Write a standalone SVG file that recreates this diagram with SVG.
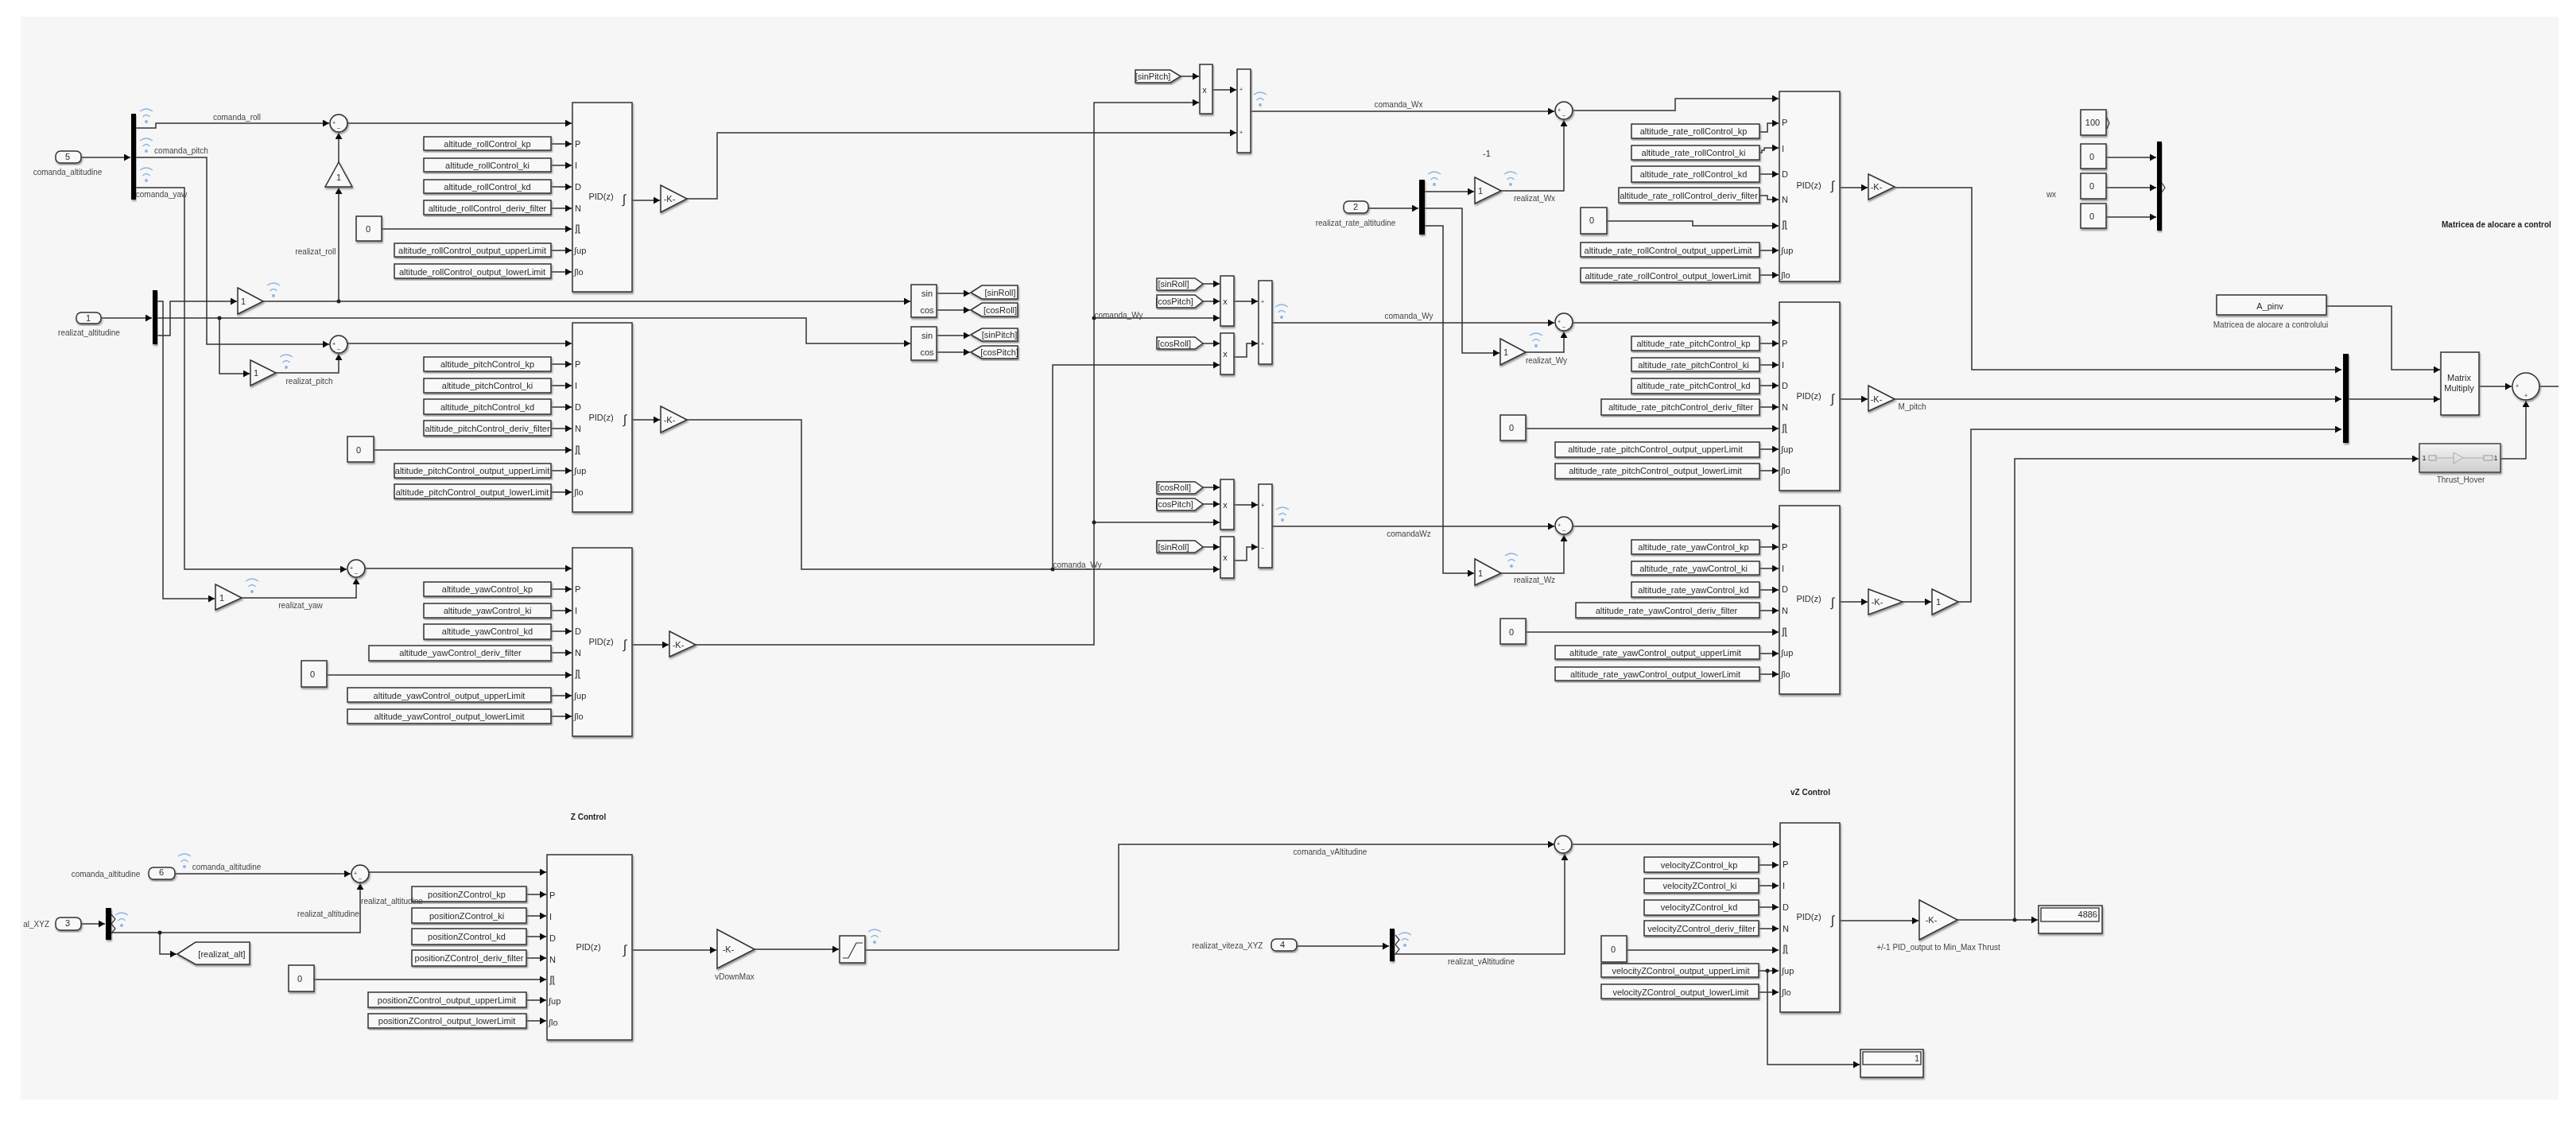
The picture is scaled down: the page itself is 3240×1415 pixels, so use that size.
<svg xmlns="http://www.w3.org/2000/svg" width="3240" height="1415" viewBox="0 0 3240 1415">
<style>
text{font-family:"Liberation Sans",Arial,sans-serif;fill:#2a2a2a;text-anchor:middle;dominant-baseline:central;font-size:11px}
.l{font-size:10px;fill:#444}
.h{font-size:10px;font-weight:bold;fill:#222}
.p{text-anchor:start;font-size:11px}
.s{font-size:7px}
.i{font-size:16px;font-style:italic}
.b{fill:#f8f8f8;stroke:#333;stroke-width:1.5;filter:url(#sh)}
.k{fill:#000;filter:url(#sh)}
.f{fill:none;stroke:#333;stroke-width:1.2}
.w{fill:none;stroke:#8db4e2;stroke-width:1.3}
#connectors path{fill:none;stroke:#333;stroke-width:1.5;marker-end:url(#ar)}
#connectors path.n{marker-end:none}
#connectors circle{fill:#222}
</style>
<defs>
<filter id="blur" filterUnits="userSpaceOnUse" x="0" y="0" width="3240" height="1415"><feGaussianBlur stdDeviation="0.5"/></filter>
<filter id="sh" x="-10%" y="-10%" width="125%" height="125%"><feDropShadow dx="1" dy="2" stdDeviation="1" flood-color="#777" flood-opacity="0.8"/></filter>
<marker id="ar" markerUnits="userSpaceOnUse" markerWidth="9" markerHeight="10" refX="8" refY="4.5" orient="auto"><path d="M0 0L8 4.5L0 9z" fill="#111"/></marker>
<linearGradient id="gr" x1="0" y1="0" x2="0" y2="1"><stop offset="0" stop-color="#f4f4f4"/><stop offset="1" stop-color="#cdcdcd"/></linearGradient>
<g id="wifi"><path class="w" d="M-8-6Q0-12 8-6M-4.5 1Q0-4 4.5 1"/><circle cy="7" r="2" fill="#8db4e2"/></g>
<path id="pulse" class="f" d="M-3 5H-1V-5H2V5H4"/>
</defs>
<g filter="url(#blur)">
<rect width="3240" height="1415" fill="#fff"/>
<rect id="background" x="26" y="21" width="3192" height="1362" fill="#f6f6f6"/>
<g id="connectors">
<path d="M102 198H164"/><path d="M171 161H196V155H414"/><path d="M171 198H260V433H414"/><path d="M171 236H232V716H436"/>
<path d="M127 400H191"/><path d="M198 379H205V753H270"/><path d="M198 422H214V379H298"/><path d="M198 400H1014V432H1145"/>
<path d="M331 379H1145"/><path d="M426 379V236"/><path d="M426 204V167"/><path d="M276 400V470H314"/><path d="M347 469H426V445"/><path d="M304 752H448V727"/>
<circle cx="426" cy="379" r="2.5"/><circle cx="276" cy="400" r="2.5"/>
<path d="M437 155H719"/><path d="M437 432H719"/><path d="M459 715H719"/>
<path d="M693 181H719"/><path d="M693 208H719"/><path d="M693 235H719"/><path d="M693 262H719"/><path d="M480 288H719"/><path d="M693 315H719"/><path d="M693 342H719"/>
<path d="M693 458H719"/><path d="M693 485H719"/><path d="M693 512H719"/><path d="M693 539H719"/><path d="M470 566H719"/><path d="M693 592H719"/><path d="M693 619H719"/>
<path d="M693 741H719"/><path d="M693 768H719"/><path d="M693 794H719"/><path d="M693 821H719"/><path d="M411 849H719"/><path d="M693 875H719"/><path d="M693 901H719"/>
<path d="M795 252H830"/><path d="M795 528H830"/><path d="M795 811H841"/>
<path d="M1178 369H1220"/><path d="M1178 390H1220"/><path d="M1178 422H1220"/><path d="M1178 443H1220"/>
<path d="M864 528H1008V716H1534"/><path d="M1324 716V459H1534"/><circle cx="1324" cy="716" r="2.5"/>
<path d="M875 811H1376V129H1508"/><path d="M1376 400H1534"/><path d="M1376 657H1534"/><circle cx="1376" cy="400" r="2.5"/><circle cx="1376" cy="657" r="2.5"/>
<path d="M864 250H902V167H1555"/><path d="M1485 96H1508"/><path d="M1525 113H1555"/><path d="M1573 140H1955"/>
<path d="M1513 357H1534"/><path d="M1513 379H1534"/><path d="M1552 379H1582"/><path d="M1513 432H1534"/><path d="M1552 449H1568V432H1582"/><path d="M1600 406H1955"/>
<path d="M1513 613H1534"/><path d="M1513 634H1534"/><path d="M1552 635H1582"/><path d="M1513 688H1534"/><path d="M1552 705H1568V688H1582"/><path d="M1600 662H1955"/>
<path d="M1721 262H1784"/><path d="M1792 241H1854"/><path d="M1888 240H1967V151"/><path d="M1792 262H1839V444H1886"/><path d="M1919 443H1967V417"/><path d="M1792 284H1815V721H1854"/><path d="M1888 721H1967V673"/>
<path d="M1978 139H2107V124H2237"/><path d="M1978 406H2237"/><path d="M1978 662H2237"/>
<path d="M2213 166H2223V155H2237"/><path d="M2213 192H2216V189H2219V186H2237"/><path d="M2213 219H2237"/><path d="M2213 246H2223V251H2237"/><path d="M2021 278H2129V284H2237"/><path d="M2213 315H2237"/><path d="M2213 346H2237"/>
<path d="M2314 236H2349"/><path d="M2383 236H2480V465H2945"/>
<path d="M2213 432H2237"/><path d="M2213 459H2237"/><path d="M2213 485H2237"/><path d="M2213 512H2237"/><path d="M1919 539H2237"/><path d="M2213 565H2237"/><path d="M2213 592H2237"/>
<path d="M2314 502H2349"/><path d="M2383 502H2945"/><path d="M2954 502H3069"/>
<path d="M2213 688H2237"/><path d="M2213 715H2237"/><path d="M2213 742H2237"/><path d="M2213 768H2237"/><path d="M1919 795H2237"/><path d="M2213 822H2237"/><path d="M2213 848H2237"/>
<path d="M2314 757H2349"/><path d="M2393 757H2429"/><path d="M2463 757H2479V540H2945"/>
<path d="M2649 198H2712"/><path d="M2649 236H2712"/><path d="M2649 273H2712"/>
<path d="M2926 385H3008V465H3069"/><path d="M3118 486H3159"/><path class="n" d="M3194 486H3218"/><path d="M3145 577H3177V504"/><path d="M2534 1157V577H3042"/><path d="M2462 1157H2563"/><circle cx="2534" cy="1157" r="2.5"/>
<path d="M2314 1158H2413"/>
<path d="M2212 1088H2237"/><path d="M2212 1114H2237"/><path d="M2212 1141H2237"/><path d="M2212 1168H2237"/><path d="M2046 1195H2237"/><path d="M2212 1221H2237"/><path d="M2212 1248H2237"/>
<path d="M2223 1221V1339H2339"/><circle cx="2223" cy="1221" r="2.5"/>
<path d="M220 1099H441"/><path d="M102 1162H132"/><path d="M140 1173H453V1111"/><path d="M201 1173V1200H222"/><circle cx="201" cy="1173" r="2.5"/>
<path d="M464 1097H687"/><path d="M662 1125H687"/><path d="M662 1152H687"/><path d="M662 1178H687"/><path d="M662 1205H687"/><path d="M395 1232H687"/><path d="M662 1258H687"/><path d="M662 1284H687"/>
<path d="M795 1195H901"/><path d="M949 1194H1055"/><path d="M1088 1195H1407V1062H1955"/><path d="M1978 1062H2238"/><path d="M1631 1190H1747"/><path d="M1754 1200H1968V1074"/>
</g>

<g id="inport5"><rect class="b" x="70" y="190" width="32" height="15" rx="6"/><text x="85" y="197">5</text><text class="l" x="85" y="216">comanda_altitudine</text></g>
<g id="demux1"><rect class="k" x="165" y="143" width="6" height="108"/><use href="#wifi" x="184" y="146"/><use href="#wifi" x="184" y="183"/><use href="#wifi" x="184" y="220"/><text class="l" x="298" y="147">comanda_roll</text><text class="l" x="228" y="189">comanda_pitch</text><text class="l" x="203" y="244">comanda_yaw</text></g>
<g id="inport1"><rect class="b" x="96" y="393" width="31" height="14" rx="6"/><text x="111" y="400">1</text><text class="l" x="112" y="418">realizat_altitudine</text></g>
<g id="demux2"><rect class="k" x="192" y="365" width="6" height="68"/></g>

<g id="sum1"><circle class="b" cx="426" cy="155" r="11"/><text class="s" x="420" y="154">+</text><text class="s" x="426" y="160">–</text></g>
<g id="gainRollUp"><polygon class="b" points="426,204 443,235 409,235"/><text x="426" y="223">1</text><text class="l" x="397" y="316">realizat_roll</text></g>
<g id="gainRoll"><polygon class="b" points="299,362 331,379 299,395"/><text x="306" y="379">1</text><use href="#wifi" x="344" y="365"/></g>
<g id="sum2"><circle class="b" cx="426" cy="433" r="11"/><text class="s" x="420" y="432">+</text><text class="s" x="426" y="438">–</text></g>
<g id="gainPitch"><polygon class="b" points="315,453 347,469 315,485"/><text x="322" y="469">1</text><use href="#wifi" x="360" y="455"/><text class="l" x="389" y="479">realizat_pitch</text></g>
<g id="sum3"><circle class="b" cx="448" cy="715" r="11"/><text class="s" x="442" y="714">+</text><text class="s" x="448" y="720">–</text></g>
<g id="gainYaw"><polygon class="b" points="271,735 304,752 271,767"/><text x="279" y="752">1</text><use href="#wifi" x="317" y="737"/><text class="l" x="378" y="761">realizat_yaw</text></g>

<g id="pidRoll"><rect class="b" x="720" y="129" width="75" height="238"/><text x="756" y="247">PID(z)</text><text class="i" x="785" y="250">∫</text>
<text class="p" x="723" y="181">P</text><text class="p" x="723" y="208">I</text><text class="p" x="723" y="235">D</text><text class="p" x="723" y="262">N</text><use href="#pulse" x="726" y="288"/><text class="p" x="722" y="315">∫up</text><text class="p" x="722" y="342">∫lo</text></g>
<g id="rollParams">
<rect class="b" x="533" y="172" width="160" height="17"/><text x="613" y="181">altitude_rollControl_kp</text>
<rect class="b" x="533" y="199" width="160" height="17"/><text x="613" y="208">altitude_rollControl_ki</text>
<rect class="b" x="533" y="226" width="160" height="17"/><text x="613" y="235">altitude_rollControl_kd</text>
<rect class="b" x="533" y="252" width="160" height="18"/><text x="613" y="262">altitude_rollControl_deriv_filter</text>
<rect class="b" x="448" y="272" width="32" height="31"/><text x="463" y="288">0</text>
<rect class="b" x="496" y="306" width="197" height="17"/><text x="594" y="315">altitude_rollControl_output_upperLimit</text>
<rect class="b" x="496" y="332" width="197" height="18"/><text x="594" y="342">altitude_rollControl_output_lowerLimit</text></g>
<g id="gainK1"><polygon class="b" points="831,233 864,250 831,267"/><text x="842" y="250">-K-</text></g>

<g id="pidPitch"><rect class="b" x="720" y="406" width="75" height="238"/><text x="756" y="525">PID(z)</text><text class="i" x="786" y="527">∫</text>
<text class="p" x="723" y="458">P</text><text class="p" x="723" y="485">I</text><text class="p" x="723" y="512">D</text><text class="p" x="723" y="539">N</text><use href="#pulse" x="726" y="566"/><text class="p" x="722" y="592">∫up</text><text class="p" x="722" y="619">∫lo</text></g>
<g id="pitchParams">
<rect class="b" x="533" y="449" width="160" height="18"/><text x="613" y="458">altitude_pitchControl_kp</text>
<rect class="b" x="533" y="476" width="160" height="18"/><text x="613" y="485">altitude_pitchControl_ki</text>
<rect class="b" x="533" y="502" width="160" height="19"/><text x="613" y="512">altitude_pitchControl_kd</text>
<rect class="b" x="533" y="529" width="160" height="19"/><text x="613" y="539">altitude_pitchControl_deriv_filter</text>
<rect class="b" x="437" y="549" width="33" height="32"/><text x="451" y="566">0</text>
<rect class="b" x="496" y="583" width="197" height="18"/><text x="594" y="592">altitude_pitchControl_output_upperLimit</text>
<rect class="b" x="496" y="609" width="197" height="18"/><text x="594" y="619">altitude_pitchControl_output_lowerLimit</text></g>
<g id="gainK2"><polygon class="b" points="831,511 864,528 831,544"/><text x="842" y="528">-K-</text></g>

<g id="pidYaw"><rect class="b" x="720" y="689" width="75" height="237"/><text x="756" y="807">PID(z)</text><text class="i" x="786" y="810">∫</text>
<text class="p" x="723" y="741">P</text><text class="p" x="723" y="768">I</text><text class="p" x="723" y="794">D</text><text class="p" x="723" y="821">N</text><use href="#pulse" x="726" y="848"/><text class="p" x="722" y="875">∫up</text><text class="p" x="722" y="901">∫lo</text></g>
<g id="yawParams">
<rect class="b" x="533" y="732" width="160" height="18"/><text x="613" y="741">altitude_yawControl_kp</text>
<rect class="b" x="533" y="759" width="160" height="18"/><text x="613" y="768">altitude_yawControl_ki</text>
<rect class="b" x="533" y="785" width="160" height="19"/><text x="613" y="794">altitude_yawControl_kd</text>
<rect class="b" x="464" y="812" width="229" height="19"/><text x="579" y="821">altitude_yawControl_deriv_filter</text>
<rect class="b" x="379" y="831" width="32" height="33"/><text x="393" y="848">0</text>
<rect class="b" x="437" y="865" width="256" height="18"/><text x="565" y="875">altitude_yawControl_output_upperLimit</text>
<rect class="b" x="437" y="892" width="256" height="18"/><text x="565" y="901">altitude_yawControl_output_lowerLimit</text></g>
<g id="gainK3"><polygon class="b" points="842,794 875,811 842,826"/><text x="853" y="811">-K-</text></g>

<g id="trig1"><rect class="b" x="1146" y="358" width="32" height="41"/><text x="1166" y="369">sin</text><text x="1166" y="390">cos</text></g>
<g id="trig2"><rect class="b" x="1146" y="411" width="32" height="42"/><text x="1166" y="422">sin</text><text x="1166" y="443">cos</text></g>
<g id="gotoSinRoll"><polygon class="b" points="1221,368 1235,359 1280,359 1280,376 1235,376"/><text x="1258" y="368">[sinRoll]</text></g>
<g id="gotoCosRoll"><polygon class="b" points="1221,390 1235,381 1280,381 1280,398 1235,398"/><text x="1258" y="390">[cosRoll]</text></g>
<g id="gotoSinPitch"><polygon class="b" points="1221,421 1235,413 1280,413 1280,429 1235,429"/><text x="1257" y="421">[sinPitch]</text></g>
<g id="gotoCosPitch"><polygon class="b" points="1221,443 1235,435 1280,435 1280,451 1235,451"/><text x="1257" y="443">[cosPitch]</text></g>

<g id="fromX1"><polygon class="b" points="1428,88 1472,88 1485,96 1472,104 1428,104"/><text x="1450" y="96">[sinPitch]</text></g>
<g id="prodX"><rect class="b" x="1509" y="81" width="16" height="62"/><text x="1515" y="113">x</text></g>
<g id="addX"><rect class="b" x="1556" y="87" width="17" height="105"/><text class="s" x="1561" y="112">+</text><text class="s" x="1561" y="166">+</text><use href="#wifi" x="1585" y="125"/><text class="l" x="1759" y="131">comanda_Wx</text></g>

<g id="fromY1"><polygon class="b" points="1455,350 1503,350 1513,357 1503,365 1455,365"/><text x="1476" y="357">[sinRoll]</text></g>
<g id="fromY2"><polygon class="b" points="1455,371 1503,371 1513,379 1503,387 1455,387"/><text x="1477" y="379">[cosPitch]</text></g>
<g id="fromY3"><polygon class="b" points="1455,424 1503,424 1513,432 1503,439 1455,439"/><text x="1477" y="432">[cosRoll]</text></g>
<g id="prodY1"><rect class="b" x="1535" y="347" width="17" height="63"/><text x="1541" y="379">x</text><text class="l" x="1407" y="396">comanda_Wy</text></g>
<g id="prodY2"><rect class="b" x="1535" y="419" width="17" height="52"/><text x="1541" y="445">x</text></g>
<g id="addY"><rect class="b" x="1583" y="353" width="17" height="105"/><text class="s" x="1588" y="379">+</text><text class="s" x="1588" y="432">+</text><use href="#wifi" x="1612" y="392"/><text class="l" x="1772" y="397">comanda_Wy</text></g>

<g id="fromZ1"><polygon class="b" points="1455,606 1503,606 1513,613 1503,621 1455,621"/><text x="1477" y="613">[cosRoll]</text></g>
<g id="fromZ2"><polygon class="b" points="1455,627 1503,627 1513,634 1503,642 1455,642"/><text x="1477" y="634">[cosPitch]</text></g>
<g id="fromZ3"><polygon class="b" points="1455,680 1503,680 1513,688 1503,695 1455,695"/><text x="1476" y="688">[sinRoll]</text></g>
<g id="prodZ1"><rect class="b" x="1535" y="603" width="17" height="63"/><text x="1541" y="635">x</text></g>
<g id="prodZ2"><rect class="b" x="1535" y="675" width="17" height="52"/><text x="1541" y="701">x</text><text class="l" x="1355" y="710">comanda_Wy</text></g>
<g id="addZ"><rect class="b" x="1583" y="609" width="17" height="105"/><text class="s" x="1588" y="635">+</text><text class="s" x="1588" y="688">–</text><use href="#wifi" x="1613" y="647"/><text class="l" x="1772" y="671">comandaWz</text></g>

<g id="inport2"><rect class="b" x="1690" y="253" width="31" height="15" rx="6"/><text x="1705" y="260">2</text><text class="l" x="1705" y="280">realizat_rate_altitudine</text></g>
<g id="demux3"><rect class="k" x="1785" y="226" width="7" height="69"/><use href="#wifi" x="1804" y="225"/></g>
<g id="gainWx"><polygon class="b" points="1855,223 1888,240 1855,256"/><text x="1862" y="240">1</text><text x="1870" y="193">-1</text><use href="#wifi" x="1900" y="225"/><text class="l" x="1930" y="249">realizat_Wx</text></g>
<g id="gainWy"><polygon class="b" points="1887,426 1919,443 1887,459"/><text x="1894" y="443">1</text><use href="#wifi" x="1932" y="428"/><text class="l" x="1945" y="453">realizat_Wy</text></g>
<g id="gainWz"><polygon class="b" points="1855,703 1888,721 1855,736"/><text x="1862" y="721">1</text><use href="#wifi" x="1901" y="705"/><text class="l" x="1930" y="729">realizat_Wz</text></g>
<g id="sumWx"><circle class="b" cx="1967" cy="139" r="11"/><text class="s" x="1961" y="138">+</text><text class="s" x="1967" y="144">–</text></g>
<g id="sumWy"><circle class="b" cx="1967" cy="405" r="11"/><text class="s" x="1961" y="404">+</text><text class="s" x="1967" y="410">–</text></g>
<g id="sumWz"><circle class="b" cx="1967" cy="661" r="11"/><text class="s" x="1961" y="660">+</text><text class="s" x="1967" y="666">–</text></g>

<g id="pidRateRoll"><rect class="b" x="2238" y="115" width="76" height="239"/><text x="2275" y="233">PID(z)</text><text class="i" x="2305" y="233">∫</text>
<text class="p" x="2241" y="154">P</text><text class="p" x="2241" y="187">I</text><text class="p" x="2241" y="219">D</text><text class="p" x="2241" y="251">N</text><use href="#pulse" x="2244" y="283"/><text class="p" x="2240" y="315">∫up</text><text class="p" x="2240" y="346">∫lo</text></g>
<g id="rateRollParams">
<rect class="b" x="2052" y="156" width="161" height="18"/><text x="2130" y="165">altitude_rate_rollControl_kp</text>
<rect class="b" x="2052" y="183" width="161" height="18"/><text x="2130" y="192">altitude_rate_rollControl_ki</text>
<rect class="b" x="2052" y="209" width="161" height="20"/><text x="2130" y="219">altitude_rate_rollControl_kd</text>
<rect class="b" x="2036" y="236" width="177" height="19"/><text x="2124" y="246">altitude_rate_rollControl_deriv_filter</text>
<rect class="b" x="1988" y="261" width="33" height="33"/><text x="2002" y="277">0</text>
<rect class="b" x="1988" y="305" width="225" height="18"/><text x="2098" y="315">altitude_rate_rollControl_output_upperLimit</text>
<rect class="b" x="1988" y="337" width="225" height="18"/><text x="2098" y="347">altitude_rate_rollControl_output_lowerLimit</text></g>
<g id="gainK4"><polygon class="b" points="2350,219 2383,235 2350,251"/><text x="2360" y="235">-K-</text></g>

<g id="pidRatePitch"><rect class="b" x="2238" y="380" width="76" height="237"/><text x="2275" y="498">PID(z)</text><text class="i" x="2305" y="501">∫</text>
<text class="p" x="2241" y="432">P</text><text class="p" x="2241" y="459">I</text><text class="p" x="2241" y="485">D</text><text class="p" x="2241" y="512">N</text><use href="#pulse" x="2244" y="539"/><text class="p" x="2240" y="565">∫up</text><text class="p" x="2240" y="592">∫lo</text></g>
<g id="ratePitchParams">
<rect class="b" x="2052" y="423" width="161" height="18"/><text x="2130" y="432">altitude_rate_pitchControl_kp</text>
<rect class="b" x="2052" y="450" width="161" height="17"/><text x="2130" y="459">altitude_rate_pitchControl_ki</text>
<rect class="b" x="2052" y="476" width="161" height="19"/><text x="2130" y="485">altitude_rate_pitchControl_kd</text>
<rect class="b" x="2014" y="502" width="199" height="20"/><text x="2114" y="512">altitude_rate_pitchControl_deriv_filter</text>
<rect class="b" x="1887" y="522" width="32" height="32"/><text x="1901" y="538">0</text>
<rect class="b" x="1956" y="556" width="257" height="19"/><text x="2082" y="565">altitude_rate_pitchControl_output_upperLimit</text>
<rect class="b" x="1956" y="583" width="257" height="19"/><text x="2082" y="592">altitude_rate_pitchControl_output_lowerLimit</text></g>
<g id="gainK5"><polygon class="b" points="2350,485 2383,502 2350,517"/><text x="2360" y="502">-K-</text><text class="l" x="2405" y="511">M_pitch</text></g>

<g id="pidRateYaw"><rect class="b" x="2238" y="636" width="76" height="237"/><text x="2275" y="753">PID(z)</text><text class="i" x="2305" y="757">∫</text>
<text class="p" x="2241" y="688">P</text><text class="p" x="2241" y="715">I</text><text class="p" x="2241" y="741">D</text><text class="p" x="2241" y="768">N</text><use href="#pulse" x="2244" y="795"/><text class="p" x="2240" y="821">∫up</text><text class="p" x="2240" y="848">∫lo</text></g>
<g id="rateYawParams">
<rect class="b" x="2052" y="679" width="161" height="18"/><text x="2130" y="688">altitude_rate_yawControl_kp</text>
<rect class="b" x="2052" y="706" width="161" height="17"/><text x="2130" y="715">altitude_rate_yawControl_ki</text>
<rect class="b" x="2052" y="732" width="161" height="19"/><text x="2130" y="742">altitude_rate_yawControl_kd</text>
<rect class="b" x="1982" y="758" width="231" height="19"/><text x="2096" y="768">altitude_rate_yawControl_deriv_filter</text>
<rect class="b" x="1887" y="778" width="32" height="32"/><text x="1901" y="795">0</text>
<rect class="b" x="1956" y="812" width="257" height="17"/><text x="2082" y="821">altitude_rate_yawControl_output_upperLimit</text>
<rect class="b" x="1956" y="839" width="257" height="17"/><text x="2082" y="848">altitude_rate_yawControl_output_lowerLimit</text></g>
<g id="gainK6"><polygon class="b" points="2350,741 2393,757 2350,773"/><text x="2361" y="757">-K-</text></g>
<g id="gainOne"><polygon class="b" points="2430,741 2463,757 2430,773"/><text x="2438" y="757">1</text></g>

<g id="const100"><rect class="b" x="2617" y="138" width="32" height="32"/><text x="2632" y="154">100</text><path class="f" d="M2650 148L2653 155L2650 162"/></g>
<g id="const0a"><rect class="b" x="2617" y="181" width="32" height="31"/><text x="2631" y="197">0</text></g>
<g id="const0b"><rect class="b" x="2617" y="218" width="32" height="32"/><text x="2631" y="234">0</text></g>
<g id="const0c"><rect class="b" x="2617" y="256" width="32" height="31"/><text x="2631" y="272">0</text></g>
<g id="muxW"><rect class="k" x="2713" y="178" width="6" height="112"/><path class="f" d="M2719 230L2723 236L2719 242"/><text class="l" x="2580" y="244">wx</text></g>
<g id="muxM"><rect class="k" x="2947" y="445" width="7" height="112"/></g>
<g id="aPinv"><rect class="b" x="2788" y="371" width="138" height="25"/><text x="2855" y="385">A_pinv</text><text class="l" x="2856" y="408">Matricea de alocare a controlului</text></g>
<g id="matrixMultiply"><rect class="b" x="3070" y="443" width="48" height="79"/><text x="3093" y="475">Matrix</text><text x="3093" y="488">Multiply</text></g>
<g id="sumOut"><circle class="b" cx="3177" cy="486" r="17"/><text class="s" x="3166" y="485">+</text><text class="s" x="3177" y="497">+</text></g>
<text id="titleMatrix" class="h" x="3071" y="282" style="text-anchor:start">Matricea de alocare a control</text>
<g id="thrustHover"><rect x="3043" y="558" width="102" height="36" fill="url(#gr)" stroke="#444" stroke-width="1.5" filter="url(#sh)"/><path d="M3064 576H3086M3098 576H3124" stroke="#aaa" fill="none"/><rect x="3055" y="573" width="9" height="6" fill="none" stroke="#999"/><rect x="3124" y="573" width="11" height="6" fill="none" stroke="#999"/><polygon points="3086,569 3098,576 3086,583" fill="none" stroke="#aaa"/><text x="3049" y="576" style="font-size:9px">1</text><text x="3139" y="576" style="font-size:9px">1</text><text class="l" x="3095" y="603">Thrust_Hover</text></g>

<text id="titleZ" class="h" x="740" y="1027">Z Control</text>
<g id="inport6"><rect class="b" x="187" y="1091" width="33" height="15" rx="6"/><text x="203" y="1097">6</text><text class="l" x="133" y="1099">comanda_altitudine</text><text class="l" x="285" y="1090">comanda_altitudine</text><use href="#wifi" x="232" y="1083"/></g>
<g id="inport3"><rect class="b" x="70" y="1154" width="32" height="16" rx="6"/><text x="85" y="1161">3</text><text class="l" x="62" y="1162" style="text-anchor:end">al_XYZ</text></g>
<g id="demux4"><rect class="k" x="133" y="1142" width="7" height="40"/><path class="f" d="M140 1150L145 1156L140 1162L145 1168L140 1174"/><use href="#wifi" x="153" y="1157"/></g>
<g id="gotoAlt"><polygon class="b" points="223,1200 246,1185 314,1185 314,1213 246,1213"/><text x="279" y="1200">[realizat_alt]</text></g>
<g id="pidZ"><rect class="b" x="688" y="1075" width="107" height="233"/><text x="740" y="1191">PID(z)</text><text class="i" x="786" y="1194">∫</text>
<text class="p" x="691" y="1126">P</text><text class="p" x="691" y="1153">I</text><text class="p" x="691" y="1180">D</text><text class="p" x="691" y="1207">N</text><use href="#pulse" x="694" y="1233"/><text class="p" x="690" y="1259">∫up</text><text class="p" x="690" y="1286">∫lo</text></g>
<g id="zParams">
<rect class="b" x="518" y="1115" width="144" height="19"/><text x="587" y="1125">positionZControl_kp</text>
<rect class="b" x="518" y="1142" width="144" height="19"/><text x="587" y="1152">positionZControl_ki</text>
<rect class="b" x="518" y="1168" width="144" height="20"/><text x="587" y="1178">positionZControl_kd</text>
<rect class="b" x="518" y="1195" width="144" height="20"/><text x="590" y="1205">positionZControl_deriv_filter</text>
<rect class="b" x="363" y="1214" width="32" height="33"/><text x="377" y="1231">0</text>
<rect class="b" x="463" y="1248" width="199" height="19"/><text x="562" y="1258">positionZControl_output_upperLimit</text>
<rect class="b" x="463" y="1275" width="199" height="18"/><text x="562" y="1284">positionZControl_output_lowerLimit</text></g>
<g id="sumZ"><circle class="b" cx="453" cy="1099" r="11"/><text class="s" x="447" y="1098">+</text><text class="s" x="453" y="1104">–</text><text class="l" x="493" y="1133">realizat_altitudine</text><text class="l" x="413" y="1149">realizat_altitudine</text></g>
<g id="gainV"><polygon class="b" points="902,1169 949,1194 902,1218"/><text x="916" y="1194">-K-</text><text class="l" x="924" y="1228">vDownMax</text></g>
<g id="saturation"><rect class="b" x="1056" y="1177" width="32" height="34"/><path class="f" d="M1060 1205H1067L1077 1186H1085"/><use href="#wifi" x="1100" y="1178"/></g>

<g id="inport4"><rect class="b" x="1599" y="1181" width="32" height="15" rx="6"/><text x="1613" y="1188">4</text><text class="l" x="1544" y="1189">realizat_viteza_XYZ</text></g>
<g id="demux5"><rect class="k" x="1748" y="1168" width="6" height="41"/><path class="f" d="M1755 1176L1760 1182L1755 1188L1760 1194L1755 1200"/><use href="#wifi" x="1767" y="1182"/><text class="l" x="1863" y="1209">realizat_vAltitudine</text></g>
<g id="sumVz"><circle class="b" cx="1966" cy="1062" r="11"/><text class="s" x="1960" y="1061">+</text><text class="s" x="1966" y="1067">–</text><text class="l" x="1673" y="1071">comanda_vAltitudine</text></g>
<text id="titleVz" class="h" x="2277" y="996">vZ Control</text>
<g id="pidVz"><rect class="b" x="2239" y="1035" width="75" height="238"/><text x="2275" y="1153">PID(z)</text><text class="i" x="2305" y="1157">∫</text>
<text class="p" x="2242" y="1087">P</text><text class="p" x="2242" y="1114">I</text><text class="p" x="2242" y="1141">D</text><text class="p" x="2242" y="1168">N</text><use href="#pulse" x="2245" y="1194"/><text class="p" x="2241" y="1221">∫up</text><text class="p" x="2241" y="1248">∫lo</text></g>
<g id="vzParams">
<rect class="b" x="2068" y="1078" width="144" height="19"/><text x="2137" y="1088">velocityZControl_kp</text>
<rect class="b" x="2068" y="1105" width="144" height="18"/><text x="2138" y="1114">velocityZControl_ki</text>
<rect class="b" x="2068" y="1132" width="144" height="19"/><text x="2137" y="1141">velocityZControl_kd</text>
<rect class="b" x="2068" y="1158" width="144" height="19"/><text x="2140" y="1168">velocityZControl_deriv_filter</text>
<rect class="b" x="2014" y="1177" width="32" height="33"/><text x="2029" y="1194">0</text>
<rect class="b" x="2014" y="1212" width="198" height="17"/><text x="2114" y="1221">velocityZControl_output_upperLimit</text>
<rect class="b" x="2014" y="1238" width="198" height="18"/><text x="2114" y="1248">velocityZControl_output_lowerLimit</text></g>
<g id="gainThrust"><polygon class="b" points="2414,1132 2462,1157 2414,1182"/><text x="2429" y="1157">-K-</text><text class="l" x="2438" y="1191">+/-1 PID_output to Min_Max Thrust</text></g>
<g id="display1"><rect class="b" x="2564" y="1139" width="80" height="35"/><rect x="2567" y="1142" width="73" height="17" fill="#fafafa" stroke="#444" stroke-width="1.5"/><text x="2638" y="1150" style="text-anchor:end">4886</text></g>
<g id="display2"><rect class="b" x="2340" y="1320" width="79" height="35"/><rect x="2343" y="1323" width="73" height="16" fill="#fafafa" stroke="#444" stroke-width="1.5"/><text x="2414" y="1331" style="text-anchor:end">1</text></g>
</g>
</svg>
